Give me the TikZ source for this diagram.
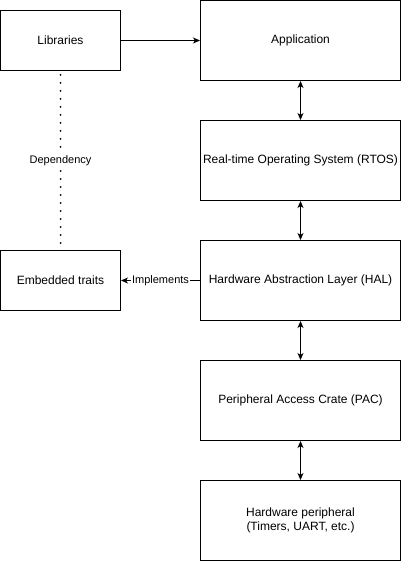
\documentclass[tikz,border=0pt]{standalone}
\usepackage{fontspec}
\setmainfont{Liberation Sans}
\usetikzlibrary{arrows.meta}
\begin{document}
\begin{tikzpicture}[x=1pt,y=-1pt,
  box/.style={draw,line width=1pt,inner sep=0pt,font=\fontsize{12}{14}\selectfont,align=center},
  conn/.style={line width=1pt,-{Stealth[length=7pt,width=6pt,inset=2pt]}},
  bconn/.style={line width=1pt,{Stealth[length=7pt,width=6pt,inset=2pt]}-{Stealth[length=7pt,width=6pt,inset=2pt]}},
  lbl/.style={fill=white,inner sep=1pt,font=\fontsize{11}{13}\selectfont}]
\useasboundingbox (-0.5,-0.5) rectangle (400.5,560.5);
\node[box,minimum width=120pt,minimum height=60pt] (lib) at (60,40) {Libraries};
\node[box,minimum width=120pt,minimum height=60pt] (emb) at (60,280) {Embedded traits};
\node[box,minimum width=200pt,minimum height=80pt] (app) at (300,40) {Application};
\node[box,minimum width=200pt,minimum height=80pt] (rtos) at (300,160) {Real-time Operating System (RTOS)};
\node[box,minimum width=200pt,minimum height=80pt] (hal) at (300,280) {Hardware Abstraction Layer (HAL)};
\node[box,minimum width=200pt,minimum height=80pt] (pac) at (300,400) {Peripheral Access Crate (PAC)};
\node[box,minimum width=200pt,minimum height=80pt] (hw) at (300,520) {Hardware peripheral\\(Timers, UART, etc.)};
\draw[conn] (lib) -- (app);
\draw[bconn] (app) -- (rtos);
\draw[bconn] (rtos) -- (hal);
\draw[bconn] (hal) -- (pac);
\draw[bconn] (pac) -- (hw);
\draw[conn] (hal) -- node[lbl] {Implements} (emb);
\draw[line width=2pt,dash pattern=on 0pt off 8pt,line cap=round,shorten <=4pt] (lib) -- node[lbl] {Dependency} (emb);
\end{tikzpicture}
\end{document}
